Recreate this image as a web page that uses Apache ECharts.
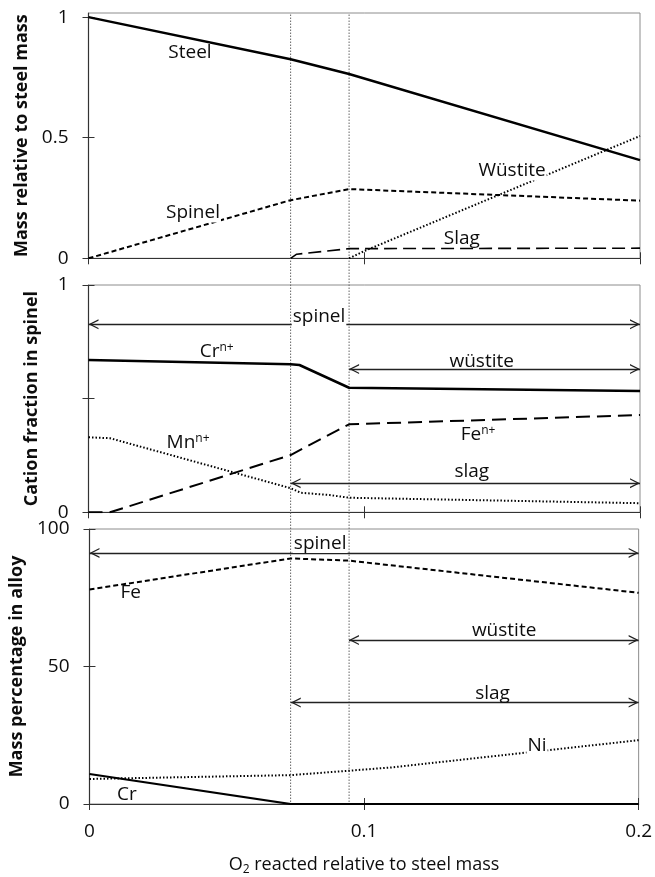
<!DOCTYPE html>
<html>
<head>
<meta charset="utf-8">
<script src="https://cdn.jsdelivr.net/npm/echarts@6/dist/echarts.min.js"></script>
<style>
  html, body { margin: 0; padding: 0; background: #fff; }
  #chart { width: 655px; height: 877px; }
</style>
</head>
<body>
<div id="chart"></div>
<script>
(() => {
  const chart = echarts.init(document.getElementById('chart'));
  const font = 'Open Sans';
  const ink = '#0d0d0d';

  // phase boundaries, O2 reacted / steel mass
  const phaseBounds = [0.0733, 0.0945];

  // panel 1: mass relative to steel mass
  const steel = [[0, 1.0], [0.0733, 0.825], [0.0945, 0.764], [0.2, 0.407]];
  const spinelMass = [[0, 0], [0.0733, 0.241], [0.0945, 0.287], [0.2, 0.239]];
  const wustiteMass = [[0.0945, 0], [0.1, 0.03], [0.2, 0.507]];
  const slagMass = [[0.0733, 0], [0.0755, 0.017], [0.0945, 0.04], [0.2, 0.042]];

  // panel 2: cation fraction in spinel
  const crFrac = [[0, 0.67], [0.0733, 0.651], [0.0765, 0.648], [0.0945, 0.548], [0.2, 0.534]];
  const feFrac = [[0, 0], [0.0078, 0], [0.0733, 0.252], [0.0945, 0.387], [0.2, 0.428]];
  const mnFrac = [[0, 0.33], [0.0078, 0.326], [0.0733, 0.106], [0.077, 0.086], [0.0875, 0.076], [0.0945, 0.064], [0.2, 0.04]];

  // panel 3: mass percentage in alloy
  const feAlloy = [[0, 78.0], [0.0733, 89.3], [0.0945, 88.5], [0.2, 76.8]];
  const crAlloy = [[0, 10.9], [0.0733, 0], [0.2, 0]];
  const niAlloy = [[0, 9.1], [0.0733, 10.5], [0.0945, 12.1], [0.11, 13.3], [0.2, 23.2]];

  // phase range arrows: [from, to, y]
  const arrows2 = [[0, 0.2, 0.827], [0.0945, 0.2, 0.63], [0.0733, 0.2, 0.128]];
  const arrows3 = [[0, 0.2, 91.3], [0.0945, 0.2, 59.6], [0.0733, 0.2, 36.9]];

  // text labels: [x, y, text, white background]
  const labels1 = [[0.0368, 0.851, 'Steel'], [0.0379, 0.188, 'Spinel', 1], [0.1536, 0.362, 'Wüstite', 1], [0.1354, 0.08, 'Slag']];
  const labels2 = [[0.0836, 0.861, 'spinel', 1], [0.0465, 0.707, 'Cr{sup|n+}'], [0.1426, 0.663, 'wüstite'],
    [0.0361, 0.305, 'Mn{sup|n+}'], [0.1413, 0.34, 'Fe{sup|n+}'], [0.139, 0.179, 'slag']];
  const labels3 = [[0.084, 94.7, 'spinel', 1], [0.015, 76.8, 'Fe'], [0.151, 63.2, 'wüstite'],
    [0.1468, 40.3, 'slag'], [0.163, 21.2, 'Ni', 1], [0.0136, 3.6, 'Cr']];

  // axis ticks
  const xTicks = [0, 0.1, 0.2];
  const yTicks = [[0, 0.5, 1], [0, 0.5, 1], [0, 50, 100]];
  const yLabels = [[0, 0.5, 1], [0, 1], [0, 50, 100]];
  const yMax = [1.017, 1, 100];
  const yNames = ['Mass relative to steel mass', 'Cation fraction in spinel', 'Mass percentage in alloy'];
  const yNameGap = [56, 48, 56];

  const grids = [
    { left: 88.5, right: 15, top: 13, height: 245.3 },
    { left: 88.5, right: 15, top: 285, height: 227.3 },
    { left: 88.5, right: 15, top: 529, height: 276 },
    { left: 88.5, right: 15, top: 13, height: 792 } // overlay for phase boundaries
  ].map((g, i) => Object.assign(g, { show: i < 3, borderColor: '#8c8c8c', borderWidth: 1, backgroundColor: 'transparent' }));

  // chevron arrow head, tip at the symbol centre
  const chevron = 'path://M5,0 L5.01,0 L5,0.01 Z M5,10 L10,20 L8.6,20 L5,12.8 L1.4,20 L0,20 Z';

  const xAxes = [];
  const yAxes = [];
  [0, 1, 2].forEach(i => {
    xAxes.push({
      type: 'value', gridIndex: i, min: 0, max: 0.2, position: 'bottom',
      axisLine: { onZero: false, lineStyle: { color: '#333', width: 1.2 } },
      axisTick: { show: true, length: 6, customValues: xTicks, lineStyle: { color: '#333' } },
      axisLabel: { show: i === 2, customValues: xTicks, margin: 18, color: ink, fontFamily: font, fontSize: 19 },
      splitLine: { show: false },
      name: i === 2 ? 'O{sub|2} reacted relative to steel mass' : '',
      nameLocation: 'middle', nameGap: 50,
      nameTextStyle: {
        color: ink, fontFamily: font, fontSize: 18,
        rich: { sub: { fontSize: 12, fontFamily: font, color: ink, verticalAlign: 'bottom', padding: [10, 0, 0, 0] } }
      }
    });
    yAxes.push({
      type: 'value', gridIndex: i, min: 0, max: yMax[i], position: 'left',
      axisLine: { show: true, lineStyle: { color: '#333', width: 1.2 } },
      axisTick: { show: true, length: 6, customValues: yTicks[i], lineStyle: { color: '#333' } },
      axisLabel: { customValues: yLabels[i], margin: 20, color: ink, fontFamily: font, fontSize: 19 },
      splitLine: { show: false },
      name: yNames[i], nameLocation: 'middle', nameGap: yNameGap[i],
      nameTextStyle: { color: ink, fontFamily: font, fontSize: 18, fontWeight: 'bold' }
    });
  });
  // inner half of the crossing ticks
  [0, 1, 2].forEach(i => {
    xAxes.push({
      type: 'value', gridIndex: i, min: 0, max: 0.2, position: 'bottom',
      axisLine: { show: false, onZero: false },
      axisTick: { show: true, inside: true, length: 6, customValues: xTicks, lineStyle: { color: '#333' } },
      axisLabel: { show: false }, splitLine: { show: false }
    });
    yAxes.push({
      type: 'value', gridIndex: i, min: 0, max: yMax[i], position: 'left',
      axisLine: { show: false, onZero: false },
      axisTick: { show: true, inside: true, length: 6, customValues: yTicks[i], lineStyle: { color: '#333' } },
      axisLabel: { show: false }, splitLine: { show: false }
    });
  });
  xAxes.push({ type: 'value', gridIndex: 3, min: 0, max: 0.2, show: false });
  yAxes.push({ type: 'value', gridIndex: 3, min: 0, max: 1, show: false });

  const curve = (idx, data, width, type) => ({
    type: 'line', xAxisIndex: idx, yAxisIndex: idx, data, symbol: 'none', silent: true,
    lineStyle: { color: '#000', width, type }
  });

  const arrowSeries = (idx, list) => ({
    type: 'line', xAxisIndex: idx, yAxisIndex: idx, data: [], silent: true,
    markLine: {
      silent: true, animation: false,
      symbol: [chevron, chevron], symbolSize: [10, 20],
      lineStyle: { color: '#222', width: 1.3, type: 'solid' },
      label: { show: false },
      data: list.map(a => [{ coord: [a[0], a[2]] }, { coord: [a[1], a[2]] }])
    }
  });

  const labelSeries = (idx, list) => ({
    type: 'scatter', xAxisIndex: idx, yAxisIndex: idx, symbolSize: 0, silent: true, z: 5,
    itemStyle: { opacity: 1, color: ink },
    data: list.map(l => ({
      value: [l[0], l[1]], name: l[2],
      label: l[3] ? { backgroundColor: '#fff' } : {}
    })),
    label: {
      show: true, position: 'inside', formatter: '{b}', color: ink, opacity: 1,
      textBorderWidth: 0, fontFamily: font, fontSize: 19, padding: [0, 1],
      rich: { sup: { fontSize: 12, fontFamily: font, color: ink, verticalAlign: 'top', padding: [0, 0, 8, 0] } }
    }
  });

  const boundSeries = phaseBounds.map(b => ({
    type: 'line', xAxisIndex: 6, yAxisIndex: 6, data: [[b, 0], [b, 1]], symbol: 'none', silent: true, z: 1,
    lineStyle: { color: '#666', width: 1, type: [1.5, 1.5] }
  }));

  const option = {
    animation: false,
    backgroundColor: '#fff',
    grid: grids,
    xAxis: xAxes,
    yAxis: yAxes,
    series: [
      ...boundSeries,
      curve(0, steel, 2.5, 'solid'),
      curve(0, spinelMass, 2, [5, 3]),
      curve(0, wustiteMass, 2, [1.5, 2]),
      curve(0, slagMass, 1.6, [13, 6]),
      labelSeries(0, labels1),
      curve(1, crFrac, 2.5, 'solid'),
      curve(1, feFrac, 2, [14, 7]),
      curve(1, mnFrac, 2, [1.5, 2]),
      arrowSeries(1, arrows2),
      labelSeries(1, labels2),
      curve(2, feAlloy, 2, [5, 3]),
      curve(2, crAlloy, 2.2, 'solid'),
      curve(2, niAlloy, 2, [1.5, 2]),
      arrowSeries(2, arrows3),
      labelSeries(2, labels3)
    ]
  };

  chart.setOption(option);
})();
</script>
</body>
</html>
